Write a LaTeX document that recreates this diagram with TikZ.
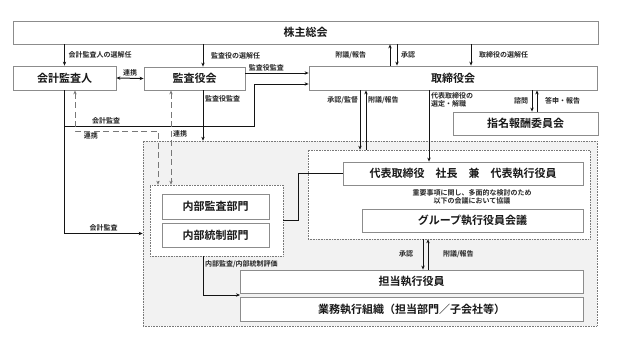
\documentclass[tikz,border=0pt]{standalone}
\usepackage{fontspec}
\setmainfont{Noto Sans CJK JP}[BoldFont={Noto Sans CJK JP Bold}]
\usetikzlibrary{arrows.meta}
\definecolor{cedge}{RGB}{140,140,140}
\definecolor{czone}{RGB}{242,242,242}
\definecolor{cline}{RGB}{20,20,20}
\definecolor{cdash}{RGB}{120,120,120}
\tikzset{orgchart/.style={x=1pt,y=-1pt,>={Stealth[length=4pt,width=3.4pt]}},
  orgbox/.style={draw=cedge,fill=white,line width=0.8pt,inner sep=0pt,text=black!90,font=\fontsize{11}{12}\selectfont\bfseries},
  zone/.style={draw=cdash,densely dotted,line width=0.6pt,inner sep=0pt},
  flow/.style={draw=cline,line width=1pt},
  dashlink/.style={draw=cdash,line width=1pt,dash pattern=on 6pt off 3.5pt},
  lbl/.style={font=\fontsize{7}{8}\selectfont\bfseries,text=black!85,inner sep=1.5pt}}

\begin{document}
\begin{tikzpicture}[orgchart]
    \useasboundingbox (0,0) rectangle (618,348);
    \node[zone,fill=czone,minimum width=454pt,minimum height=185pt] (exec) at (370,233.5) {};
    \node[zone,fill=white,minimum width=282pt,minimum height=89pt] (rzone) at (449,194.5) {};
    \node[zone,fill=white,minimum width=133pt,minimum height=71pt] (lzone) at (216.5,220.5) {};
    \node[orgbox,minimum width=585pt,minimum height=23pt] (gm) at (305.5,32.5) {株主総会};
    \node[orgbox,minimum width=103pt,minimum height=24pt] (aud) at (64.5,78) {会計監査人};
    \node[orgbox,minimum width=101pt,minimum height=23pt] (kb) at (194.5,78.5) {監査役会};
    \node[orgbox,minimum width=288pt,minimum height=24pt] (bod) at (453,78) {取締役会};
    \node[orgbox,minimum width=145pt,minimum height=23pt] (nrc) at (525.5,123.5) {指名報酬委員会};
    \node[orgbox,minimum width=107pt,minimum height=25pt] (ia) at (215.5,206.5) {内部監査部門};
    \node[orgbox,minimum width=107pt,minimum height=24pt] (ic) at (215.5,235) {内部統制部門};
    \node[orgbox,minimum width=240pt,minimum height=23pt] (ceo) at (463,173.5) {代表取締役　社長　兼　代表執行役員};
    \node[orgbox,minimum width=221pt,minimum height=23pt] (gem) at (472.5,220.5) {グループ執行役員会議};
    \node[orgbox,minimum width=343pt,minimum height=23pt] (exo) at (411.5,281.5) {担当執行役員};
    \node[orgbox,minimum width=343pt,minimum height=24pt] (org) at (411.5,309) {業務執行組織（担当部門／子会社等）};
    \node[lbl,align=center] (note) at (472,197) {重要事項に関し、多面的な検討のため\\以下の会議において協議};
    % column and bend points
    \coordinate (kbc) at (203,0);
    \coordinate (gu) at (390,0);
    \coordinate (gd) at (397,0);
    \coordinate (gs) at (471,0);
    \coordinate (ya) at (0,73);
    \coordinate (kj) at (254,126);
    \coordinate (dl) at (75,131);
    \coordinate (dr) at (158,131);
    \coordinate (dk) at (171,0);
    \coordinate (ba) at (360,0);
    \coordinate (bb) at (366,0);
    \coordinate (bc) at (429,0);
    \coordinate (bd) at (532,0);
    \coordinate (be) at (537,0);
    \coordinate (lj) at (298,0);
    \coordinate (ra) at (423,0);
    \coordinate (rb) at (428,0);
    \coordinate (ev) at (240,295);
    % shareholders
    \draw[flow,->] (aud.north |- gm.south) -- (aud.north) node[lbl,midway,right,xshift=2pt] {会計監査人の選解任};
    \draw[flow,->] (kbc |- gm.south) -- (kbc |- kb.north) node[lbl,midway,right,xshift=6pt] {監査役の選解任};
    \draw[flow,->] (gu |- bod.north) -- (gu |- gm.south) node[lbl,midway,left,xshift=-22pt] {附議/報告};
    \draw[flow,->] (gd |- gm.south) -- (gd |- bod.north) node[lbl,midway,right,xshift=2pt] {承認};
    \draw[flow,->] (gs |- gm.south) -- (gs |- bod.north) node[lbl,midway,right,xshift=6pt] {取締役の選解任};
    % audit
    \draw[flow,<->] (aud.east) -- (kb.west) node[lbl,midway,above] {連携};
    \draw[flow,->] (kb.east |- ya) -- (bod.west |- ya) node[lbl,pos=0.33,above] {監査役監査};
    \draw[flow,->] (aud.south |- kj) -- node[lbl,pos=0.22,above] {会計監査} (kj) |- ([yshift=-6pt]bod.west);
    \draw[flow,->] (aud.south) |- (exec.west) node[lbl,pos=0.75,above] {会計監査};
    \draw[flow,->] (kbc |- kb.south) -- (kbc |- exec.north) node[lbl,pos=0.16,right] {監査役監査};
    \draw[dashlink,<->] (aud.south -| dl) -- (dl) -- node[lbl,pos=0.19,below] {連携} (dr) -- (lzone.north -| dr);
    \draw[dashlink,<->] (dk |- kb.south) -- (dk |- lzone.north) node[lbl,pos=0.46,right] {連携};
    % board
    \draw[flow,->] (ba |- bod.south) -- (ba |- rzone.north) node[lbl,pos=0.17,left] {承認/監督};
    \draw[flow,->] (bb |- rzone.north) -- (bb |- bod.south) node[lbl,pos=0.83,right] {附議/報告};
    \draw[flow,->] (bc |- bod.south) -- (bc |- ceo.north) node[lbl,pos=0.13,right,align=left] {代表取締役の\\選定・解職};
    \draw[flow,->] (bd |- bod.south) -- (bd |- nrc.north) node[lbl,midway,left,xshift=-2pt] {諮問};
    \draw[flow,->] (be |- nrc.north) -- (be |- bod.south) node[lbl,midway,right,xshift=6pt] {答申・報告};
    % execution
    \draw[flow] (lzone.east) -| (lj |- ceo.west) -- (ceo.west);
    \draw[flow,->] (ra |- rzone.south) -- (ra |- exo.north) node[lbl,midway,left,xshift=-8pt] {承認};
    \draw[flow,->] (rb |- exo.north) -- (rb |- rzone.south) node[lbl,midway,right,xshift=13pt] {附議/報告};
    \draw[flow,->] (kbc |- lzone.south) |- (ev) node[lbl,pos=0.1,right] {内部監査/内部統制評価};
\end{tikzpicture}
\end{document}
